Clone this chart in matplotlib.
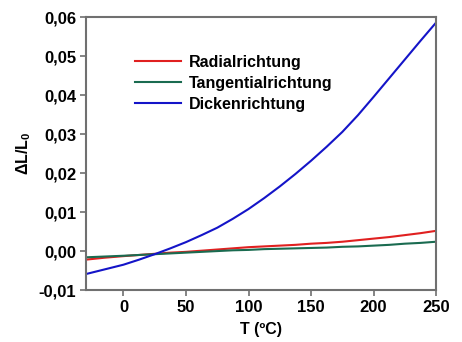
import matplotlib
matplotlib.use("Agg")
import matplotlib.pyplot as plt
from matplotlib.ticker import FuncFormatter
import numpy as np

T = [-30, -15, 0, 12.5, 25, 37.5, 50, 62.5, 75, 87.5, 100, 112.5, 125, 137.5,
     150, 162.5, 175, 187.5, 200, 212.5, 225, 237.5, 250]
radial = [-0.0022, -0.0017, -0.0013, -0.0010, -0.0007, -0.0004, -0.0002, 0.0001, 0.0004, 0.0007,
          0.0010, 0.0012, 0.0014, 0.0016, 0.0019, 0.0021, 0.0024, 0.0028, 0.0032, 0.0036,
          0.0041, 0.0046, 0.0052]
tangential = [-0.0016, -0.0014, -0.0012, -0.0010, -0.0008, -0.0006, -0.0004, -0.0002, 0.0000, 0.0002,
              0.0003, 0.0005, 0.0006, 0.0007, 0.0008, 0.0009, 0.0011, 0.0012, 0.0014, 0.0016,
              0.0019, 0.0021, 0.0024]
dicken = [-0.0059, -0.0047, -0.0035, -0.0022, -0.0008, 0.0007, 0.0023, 0.0041, 0.0060, 0.0083,
          0.0108, 0.0136, 0.0166, 0.0198, 0.0232, 0.0268, 0.0306, 0.0349, 0.0396, 0.0444,
          0.0492, 0.0540, 0.0587]
labels = ["Radialrichtung", "Tangentialrichtung", "Dickenrichtung"]
colors = ["#e02020", "#1a6b50", "#1414c8"]

plt.rcParams['font.family'] = ['Liberation Sans', 'DejaVu Sans']
plt.rcParams['font.weight'] = 'bold'
plt.rcParams['mathtext.fontset'] = 'custom'
plt.rcParams['mathtext.rm'] = 'Liberation Sans:bold'
plt.rcParams['mathtext.it'] = 'Liberation Sans:bold'

fig = plt.figure(figsize=(4.62, 3.42), dpi=100)
ax = fig.add_axes([0.186, 0.152, 0.758, 0.797])

for ys, lab, c in zip([radial, tangential, dicken], labels, colors):
    ax.plot(T, ys, color=c, lw=1.5, label=lab)

ax.set_xlim(-30, 250)
ax.set_ylim(-0.01, 0.06)
ax.set_xticks([0, 50, 100, 150, 200, 250])
ax.set_yticks(np.arange(-0.01, 0.0601, 0.01))
ax.yaxis.set_major_formatter(FuncFormatter(lambda v, p: f"{v:.2f}".replace('.', ',').replace('-0,00', '0,00')))
ax.tick_params(direction='out', length=4, width=1.2, color='#707070', labelsize=12,
               top=False, right=False, pad=3)
for lab in ax.get_xticklabels() + ax.get_yticklabels():
    lab.set_fontweight('bold')
for s in ax.spines.values():
    s.set_color('#707070')
    s.set_linewidth(1.5)

ax.set_xlabel("T (ºC)", fontsize=11.5, fontweight='bold', labelpad=5)
ax.set_ylabel("ΔL/L$_0$", fontsize=11.5, fontweight='bold', labelpad=4)

leg = ax.legend(loc='upper left', bbox_to_anchor=(0.14, 0.862), frameon=False, fontsize=11.5,
                handlelength=2.9, handletextpad=0.45, labelspacing=0.36, borderaxespad=0,
                borderpad=0)
for t in leg.get_texts():
    t.set_fontweight('bold')

fig.savefig("out.png", dpi=100)
